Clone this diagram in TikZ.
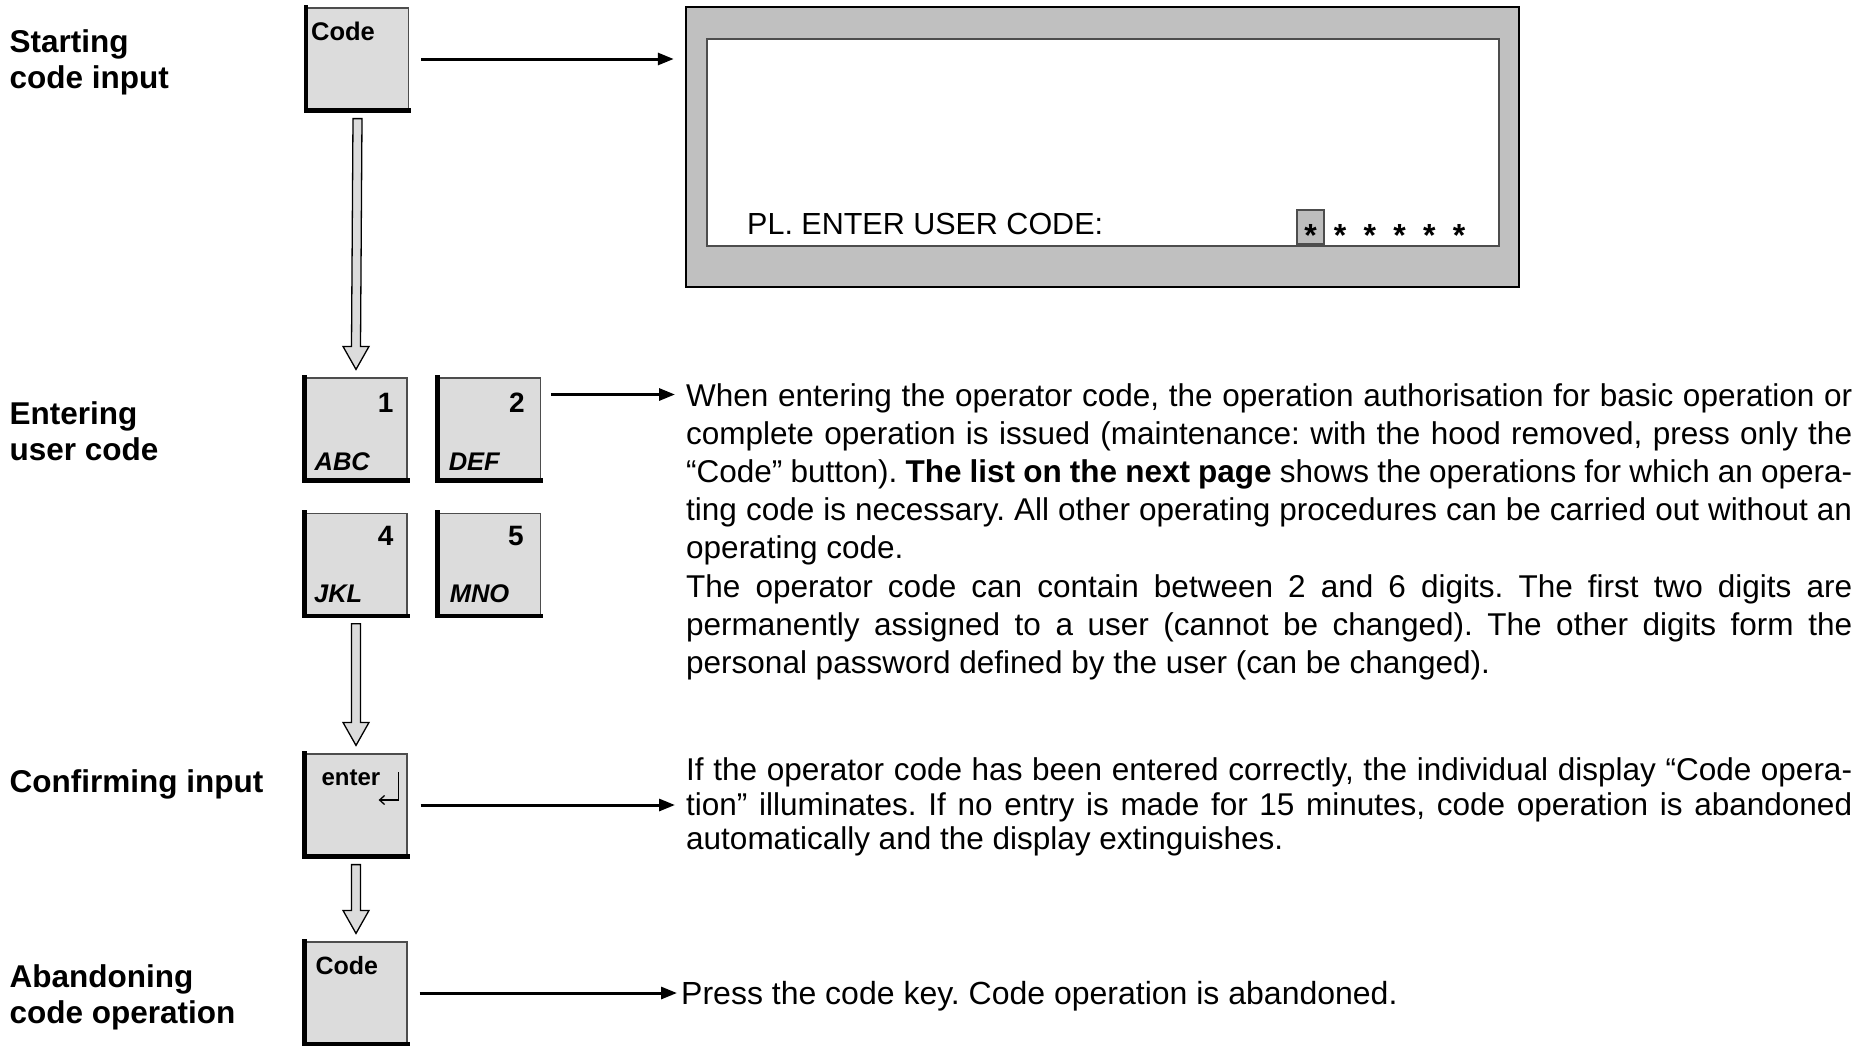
\documentclass[tikz,border=0pt]{standalone}
\usepackage{fontspec}
\setmainfont{Liberation Sans}
\usepackage{tikz}
\usetikzlibrary{arrows.meta,positioning,calc}
\frenchspacing
\definecolor{keyfill}{HTML}{DCDCDC}
\definecolor{lcdframe}{HTML}{C0C0C0}
\definecolor{curfill}{HTML}{BDBDBD}
\definecolor{edgegray}{HTML}{4D4D4D}
\tikzset{
  keybox/.style={
    rectangle, draw=edgegray, fill=keyfill, line width=1.2pt,
    minimum width=102pt, minimum height=102pt, inner sep=0pt
  },
  keyrim/.style={line width=4.5pt, line cap=rect, line join=miter},
  keynum/.style={inner sep=0pt, font=\fontsize{28}{30}\selectfont\bfseries},
  keyabc/.style={inner sep=0pt, font=\fontsize{25.5}{30}\selectfont\bfseries\itshape},
  steplabel/.style={
    inner sep=0pt, align=left,
    font=\fontsize{31.5}{36}\selectfont\bfseries
  },
  bodytext/.style={
    inner sep=0pt, text width=1166pt, align=justify,
    font=\fontsize{31.5}{#1}\selectfont
  },
  bodytext/.default=38.2,
  lcdtext/.style={inner sep=0pt, font=\fontsize{30.5}{36}\selectfont},
  lcdstar/.style={inner sep=0pt, font=\fontsize{32}{36}\selectfont\bfseries},
  ptr/.style={line width=3pt, -{Triangle[length=16pt,width=12pt]}},
  retmark/.style={line width=1.3pt, -{Straight Barb[length=5pt,width=9pt]}},
  fatdown/.style={
    draw=black, line width=1.3pt, fill=keyfill, line join=miter,
    to path={([xshift=-4.5pt,yshift=-8pt]\tikztostart.south)
      -- ([xshift=-4.5pt,yshift=31pt]\tikztotarget.north)
      -- ([xshift=-13pt,yshift=31pt]\tikztotarget.north)
      -- ([yshift=8pt]\tikztotarget.north)
      -- ([xshift=13pt,yshift=31pt]\tikztotarget.north)
      -- ([xshift=4.5pt,yshift=31pt]\tikztotarget.north)
      -- ([xshift=4.5pt,yshift=-8pt]\tikztostart.south) -- cycle}
  },
}
\begin{document}
\begin{tikzpicture}[x=1pt, y=-1pt]
  \useasboundingbox (0,0) rectangle (1870,1045);
  \fill[white] (0,0) rectangle (1870,1045);

  % Step labels
  \node[steplabel, anchor=north west] (lStart) at (9.5,29) {Starting\\code input};
  \node[steplabel, anchor=north west] (lEnter) at (9.5,401) {Entering\\user code};
  \node[steplabel, anchor=north west] (lConf) at (9.5,769) {Confirming input};
  \node[steplabel, anchor=north west] (lAband) at (9.5,964) {Abandoning\\code operation};

  % Keys
  \node[keybox] (c1) at (357.5,59) {};
  \node[keybox] (k1) at (356,429) {};
  \node[keybox, right=30pt of k1] (k2) {};
  \node[keybox, below=32pt of k1] (k4) {};
  \node[keybox, right=30pt of k4] (k5) {};
  \node[keybox] (ent) at (356,805) {};
  \node[keybox] (c2) at (356,993) {};
  \foreach \k in {c1,k1,k2,k4,k5,ent,c2}
    \draw[keyrim] (\k.north west) |- (\k.south east);

  \node[keynum, font=\fontsize{25.5}{30}\selectfont\bfseries,
    below right=14pt and 5pt of c1.north west] (c1t) {Code};
  \node[keynum, below left=15.5pt and 14pt of k1.north east] (k1n) {1};
  \node[keyabc, above right=10pt and 10pt of k1.south west] (k1a) {ABC};
  \node[keynum, below left=15.5pt and 16pt of k2.north east] (k2n) {2};
  \node[keyabc, above right=10pt and 11pt of k2.south west] (k2a) {DEF};
  \node[keynum, below left=13.5pt and 14pt of k4.north east] (k4n) {4};
  \node[keyabc, above right=13pt and 9.5pt of k4.south west] (k4a) {JKL};
  \node[keynum, below left=13.5pt and 17pt of k5.north east] (k5n) {5};
  \node[keyabc, above right=13pt and 12pt of k5.south west] (k5a) {MNO};
  \node[keynum, font=\fontsize{24}{28}\selectfont\bfseries,
    below right=16pt and 17pt of ent.north west] (entt) {enter};
  \draw[retmark] ([xshift=-9pt,yshift=33pt]ent.east) |- ([xshift=-29pt,yshift=5pt]ent.east);
  \node[keynum, font=\fontsize{25}{30}\selectfont\bfseries,
    below right=15pt and 11pt of c2.north west] (c2t) {Code};

  % Flow between keys
  \path[fatdown] (c1) to (k1);
  \path[fatdown] (k4) to (ent);
  \path[fatdown] (ent) to (c2);

  % Display
  \node[rectangle, draw=black, fill=lcdframe, line width=2.5pt,
    minimum width=833pt, minimum height=280pt] (disp) at (1102.5,147) {};
  \node[rectangle, draw=edgegray, fill=white, line width=1.5pt,
    minimum width=792pt, minimum height=207pt] (scr) at (1103,142.5) {};
  \node[lcdtext, anchor=base west] (prompt) at (747,234) {PL. ENTER USER CODE:};
  \node[rectangle, draw=edgegray, fill=curfill, line width=1.2pt,
    minimum width=27pt, minimum height=34pt, inner sep=0pt] (cur) at (1310.5,227) {};
  \foreach \i in {0,...,5}
    \node[lcdstar, anchor=base] (st\i) at ({1310.5+29.7*\i},246) {*};

  % Explanations
  \node[bodytext, anchor=north west] (txtA) at (686,383) {When entering the operator code, the operation authorisation for basic operation or\linebreak
complete operation is issued (maintenance: with the hood removed, press only the\linebreak
“Code” button). \textbf{The list on the next page} shows the operations for which an opera-\linebreak
ting code is necessary. All other operating procedures can be carried out without an\linebreak
operating code.\\
The operator code can contain between 2 and 6 digits. The first two digits are\linebreak
permanently assigned to a user (cannot be changed). The other digits form the\linebreak
personal password defined by the user (can be changed).};
  \node[bodytext=34.6, anchor=north west] (txtB) at (686,757.5) {If the operator code has been entered correctly, the individual display “Code opera-\linebreak
tion” illuminates. If no entry is made for 15 minutes, code operation is abandoned\linebreak
automatically and the display extinguishes.};
  \node[inner sep=0pt, font=\fontsize{32}{38}\selectfont, anchor=base west]
    (txtC) at (681,1004.6) {Press the code key. Code operation is abandoned.};

  % Pointers
  \coordinate (aIn) at ([xshift=-11pt,yshift=-11.5pt]txtA.north west);
  \draw[ptr] ([xshift=12pt]c1.east) -- ([xshift=-11pt]c1.east -| disp.west);
  \draw[ptr] ([xshift=10pt]k2.east |- aIn) -- (aIn);
  \draw[ptr] ([xshift=13pt]ent.east) -- ([xshift=-11pt]ent.east -| txtB.west);
  \draw[ptr] ([xshift=12pt]c2.east) -- ([xshift=-4pt]c2.east -| txtC.west);
\end{tikzpicture}
\end{document}
